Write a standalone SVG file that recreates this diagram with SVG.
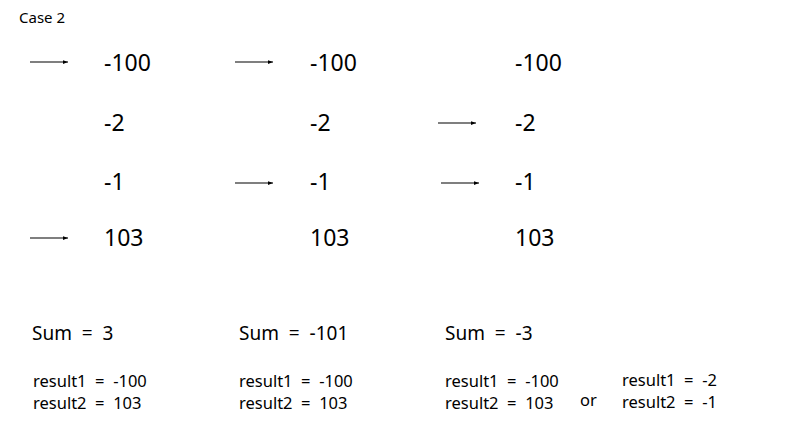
<svg xmlns="http://www.w3.org/2000/svg" width="788" height="445" viewBox="0 0 788 445">
<style>
text{font-family:"Noto Sans","Noto Sans CJK KR",sans-serif;fill:#000}
.t{font-size:15px}
.n{font-size:23px}
.s{font-size:19px;white-space:pre}
.r{font-size:16.5px;white-space:pre}
.a{stroke:#000;stroke-width:1.2;fill:none;marker-end:url(#ah)}
</style>
<defs>
<marker id="ah" viewBox="0 0 8 6" refX="8" refY="3" markerWidth="5" markerHeight="4" markerUnits="userSpaceOnUse" orient="auto"><path d="M0,0L8,3L0,6z" fill="#000"/></marker>
</defs>
<rect width="788" height="445" fill="#fff"/>
<text class="t" x="19" y="23">Case 2</text>
<g id="col1">
<text class="n" x="104" y="71">-100</text>
<text class="n" x="104" y="131">-2</text>
<text class="n" x="104" y="190">-1</text>
<text class="n" x="104" y="246">103</text>
</g>
<g id="col2">
<text class="n" x="310" y="71">-100</text>
<text class="n" x="310" y="131">-2</text>
<text class="n" x="310" y="190">-1</text>
<text class="n" x="310" y="246">103</text>
</g>
<g id="col3">
<text class="n" x="515" y="71">-100</text>
<text class="n" x="515" y="131">-2</text>
<text class="n" x="515" y="190">-1</text>
<text class="n" x="515" y="246">103</text>
</g>
<g id="connectors">
<line class="a" x1="30" y1="62" x2="68" y2="62"/>
<line class="a" x1="30" y1="238" x2="68" y2="238"/>
<line class="a" x1="235" y1="62" x2="273" y2="62"/>
<line class="a" x1="235" y1="183" x2="273" y2="183"/>
<line class="a" x1="438" y1="123" x2="476" y2="123"/>
<line class="a" x1="441" y1="183" x2="479" y2="183"/>
</g>
<g id="sums">
<text class="s" x="32" y="340">Sum  =  3</text>
<text class="s" x="239" y="340">Sum  =  -101</text>
<text class="s" x="445" y="340">Sum  =  -3</text>
</g>
<g id="results">
<text class="r" x="33" y="387">result1  =  -100</text>
<text class="r" x="33" y="409">result2  =  103</text>
<text class="r" x="239" y="387">result1  =  -100</text>
<text class="r" x="239" y="409">result2  =  103</text>
<text class="r" x="445" y="387">result1  =  -100</text>
<text class="r" x="445" y="409">result2  =  103</text>
<text class="r" x="580" y="406">or</text>
<text class="r" x="622" y="386">result1  =  -2</text>
<text class="r" x="622" y="408">result2  =  -1</text>
</g>
</svg>
